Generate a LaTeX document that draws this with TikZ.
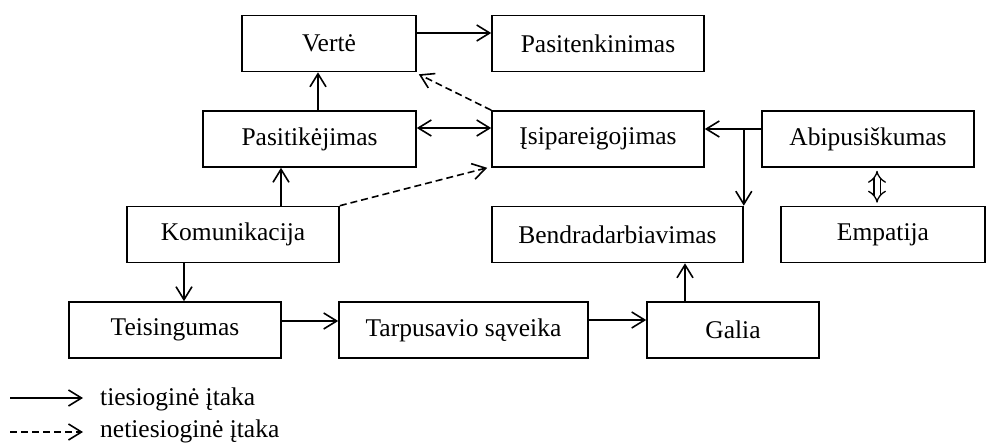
\documentclass[tikz,border=0pt]{standalone}
\usepackage{fontspec}
\setmainfont{Liberation Serif}
\usetikzlibrary{arrows.meta}

\tikzset{
  box/.style={draw, line width=1.6pt, minimum height=56pt, inner sep=0pt,
    font=\fontsize{25.5}{30}\selectfont},
  barb/.tip={Straight Barb[length=13pt,width=16pt]},
  arr/.style={line width=1.6pt, -barb},
  darr/.style={arr, dash pattern=on 7pt off 4pt},
  legtext/.style={anchor=west, inner sep=0pt, font=\fontsize{25.5}{30}\selectfont},
}

\begin{document}
\begin{tikzpicture}[x=1pt,y=-1pt]
  \useasboundingbox (0,0) rectangle (987,443);

  \node[box, minimum width=174pt] (verte) at (329,43.5) {Vertė};
  \node[box, minimum width=212pt] (pasitenkinimas) at (598,43.5) {Pasitenkinimas};

  \node[box, minimum width=213pt] (pasitikejimas) at (309.5,139) {Pasitikėjimas};
  \node[box, minimum width=212pt] (isipareigojimas) at (598,139) {Įsipareigojimas};
  \node[box, minimum width=212pt] (abipusiskumas) at (868,139) {Abipusiškumas};

  \node[box, minimum width=212pt] (komunikacija) at (233,234.5) {Komunikacija};
  \node[box, minimum width=251pt] (bendradarbiavimas) at (617.5,234.5) {Bendradarbiavimas};
  \node[box, minimum width=204pt] (empatija) at (883,234.5) {Empatija};

  \node[box, minimum width=212pt] (teisingumas) at (175,330) {Teisingumas};
  \node[box, minimum width=249pt] (tarpusavio) at (463.5,330) {Tarpusavio sąveika};
  \node[box, minimum width=172pt] (galia) at (733,330) {Galia};

  \draw[arr] ([yshift=10.5pt]verte.east) -- ([yshift=10.5pt]pasitenkinimas.west);
  \draw[arr] ([xshift=8.5pt]pasitikejimas.north) -- ([xshift=8.5pt]pasitikejimas.north |- verte.south);
  \draw[arr, barb-barb] ([yshift=11pt]pasitikejimas.east) -- ([yshift=11pt]isipareigojimas.west);
  \draw[darr] (isipareigojimas.north west) -- ([shift={(2pt,-2pt)}]verte.south east);
  \draw[arr] ([xshift=48pt]komunikacija.north) -- ([xshift=48pt]komunikacija.north |- pasitikejimas.south);
  \draw[darr] (komunikacija.north east) -- ([shift={(-4pt,0pt)}]isipareigojimas.south west);
  \draw[arr] ([xshift=-49pt]komunikacija.south) -- ([xshift=-49pt]komunikacija.south |- teisingumas.north);

  \draw[arr] ([yshift=9pt]teisingumas.east) -- ([yshift=9pt]tarpusavio.west);
  \draw[arr] ([yshift=10pt]tarpusavio.east) -- ([yshift=10pt]galia.west);
  \draw[arr] ([xshift=-48pt]galia.north) -- ([xshift=-48pt]galia.north |- bendradarbiavimas.south);

  \coordinate (abiw) at ([yshift=10pt]abipusiskumas.west);
  \coordinate (jct) at (bendradarbiavimas.north east |- abiw);
  \draw[arr] (abiw) -- (abiw -| isipareigojimas.east);
  \draw[arr] (jct) -- (bendradarbiavimas.north east);
  \draw[line width=1.3pt, double distance=5pt, {Implies[length=10pt,width=18pt]}-{Implies[length=10pt,width=18pt]}]
    ([xshift=9pt, yshift=-3pt]abipusiskumas.south) -- ([xshift=-6pt, yshift=3pt]empatija.north);

  \node[legtext] (tiesiogine) at (100,399) {tiesioginė įtaka};
  \node[legtext] (netiesiogine) at (100,431) {netiesioginė įtaka};
  \coordinate (lega) at (10,398);
  \coordinate (legb) at (10,432);
  \coordinate (legc) at (83,398);
  \coordinate (legd) at (83,432);
  \draw[arr] (lega) -- (legc);
  \draw[darr] (legb) -- (legd);
\end{tikzpicture}
\end{document}
